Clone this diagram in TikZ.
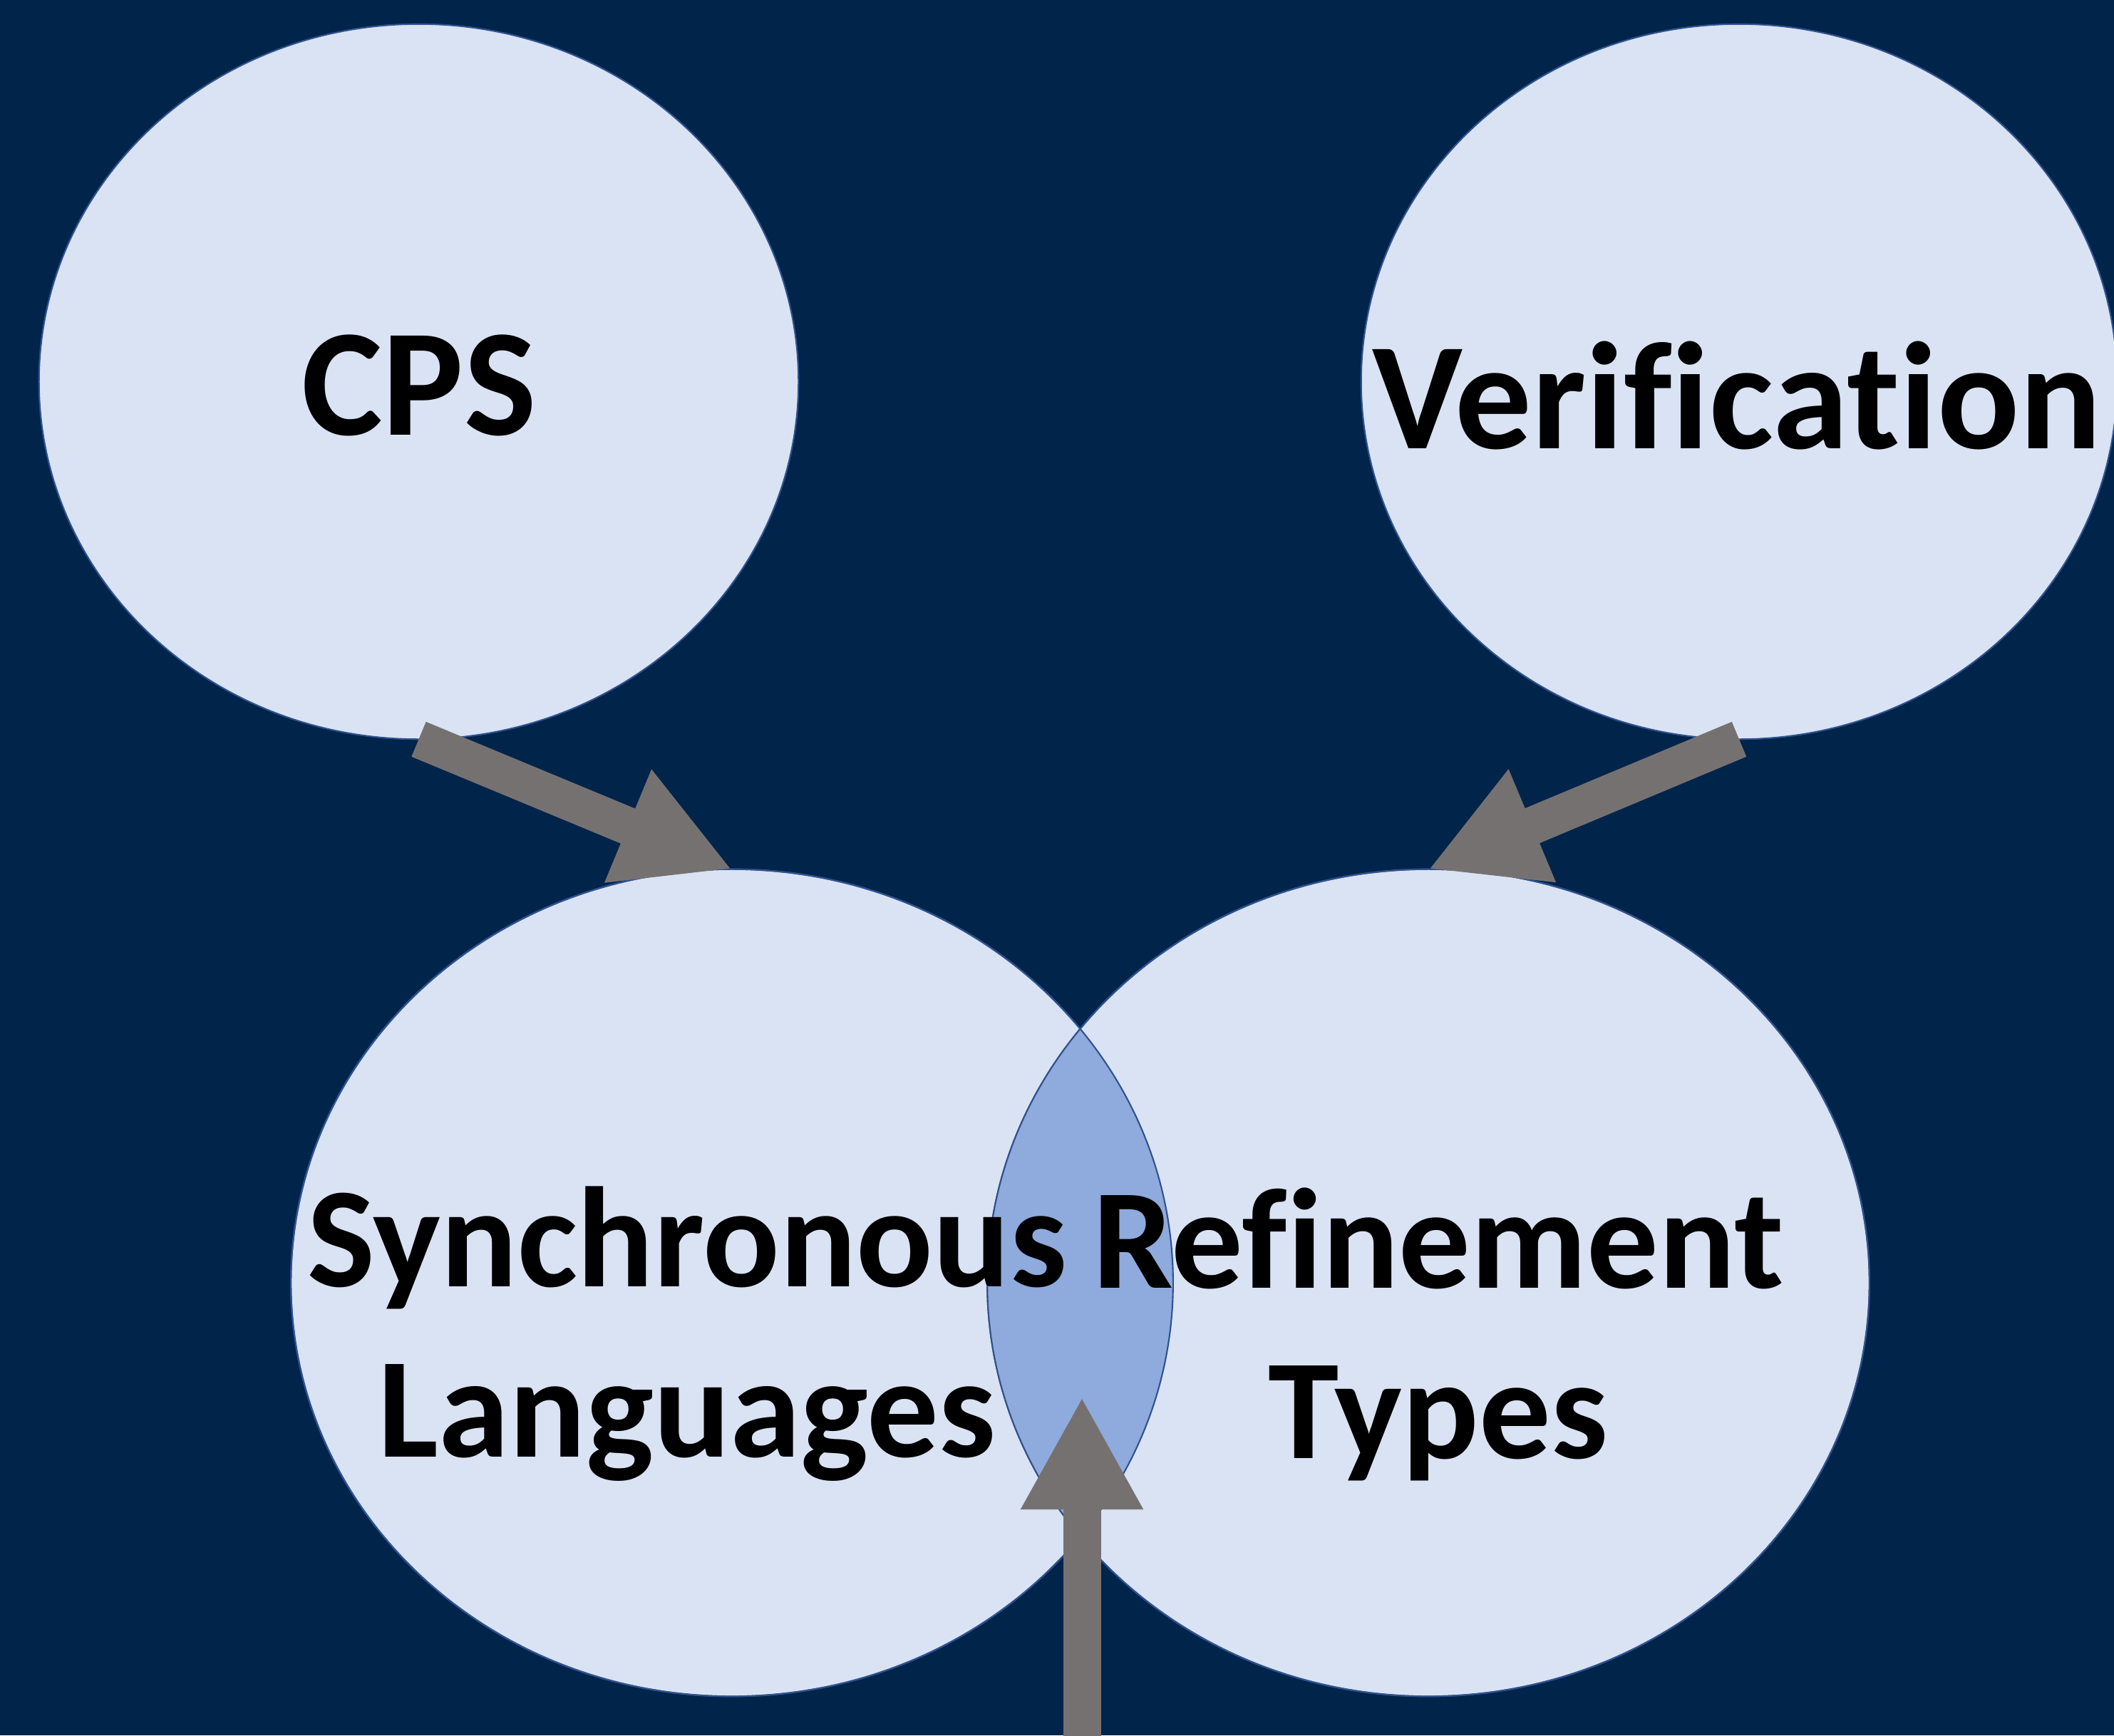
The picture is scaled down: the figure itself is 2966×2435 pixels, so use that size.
\documentclass[tikz,border=0pt]{standalone}
\usepackage{fontspec}
\setmainfont{Carlito}[Ligatures=NoCommon]
\usetikzlibrary{shapes.geometric,arrows.meta}
\definecolor{bgnavy}{HTML}{00244A}
\definecolor{ellfill}{HTML}{DAE3F3}
\definecolor{lensfill}{HTML}{8FAADC}
\definecolor{outline}{HTML}{2F528F}
\definecolor{arrowgray}{HTML}{767171}
\tikzset{
  bubble/.style={ellipse, inner sep=0pt, outer sep=0pt, fill=ellfill, draw=outline, line width=0.6pt},
  rim/.style={draw=outline, line width=0.6pt},
  bigarrow/.style={draw=arrowgray, line width=0.53cm, -{Triangle[length=1.58cm,width=1.6cm]}},
  lbl/.style={text=black, inner sep=0pt, outer sep=0pt, anchor=base, align=center},
  bigfont/.style={font=\fontsize{61pt}{73pt}\selectfont\bfseries},
  midfont/.style={font=\fontsize{57pt}{67.7pt}\selectfont\bfseries},
}
\begin{document}
\begin{tikzpicture}[x=0.01cm, y=-0.01cm]
\useasboundingbox (0,0) rectangle (2966,2435);
\clip (0,0) rectangle (2966,2435);
\fill[bgnavy] (0,0) rectangle (2966,2435);
% ellipses
\node[bubble, minimum width=10.65cm, minimum height=10.03cm] (cps) at (587.5,535.5) {};
\node[bubble, minimum width=10.6cm, minimum height=10.03cm] (ver) at (2440,535.5) {};
\node[bubble, minimum width=12.37cm, minimum height=11.6cm] (sync) at (1027,1800) {};
\node[bubble, minimum width=12.37cm, minimum height=11.6cm] (ref) at (2004,1800) {};
% overlap lens
\begin{scope}
  \clip (1027,1800) ellipse [x radius=6.185cm, y radius=5.8cm];
  \fill[lensfill] (2004,1800) ellipse [x radius=6.185cm, y radius=5.8cm];
\end{scope}
\path[rim] (1027,1800) ellipse [x radius=6.185cm, y radius=5.8cm];
\path[rim] (2004,1800) ellipse [x radius=6.185cm, y radius=5.8cm];
% arrows
\coordinate (bstart) at (1518,2500);
\coordinate (btip) at (1518,1960);
\draw[bigarrow] (cps.south) -- (sync.north);
\draw[bigarrow] (ver.south) -- (ref.north);
\draw[bigarrow] (bstart) -- (btip);
% labels
\node[lbl, bigfont] (tcps) at (588,610) {CPS};
\node[lbl, bigfont] (tver) at (2437,629) {Verification};
\node[lbl, midfont] (tsync) at (964,2044) {Synchronous\\Languages};
\node[lbl, midfont] (tref) at (2018,2046) {Refinement\\Types};
\end{tikzpicture}
\end{document}
